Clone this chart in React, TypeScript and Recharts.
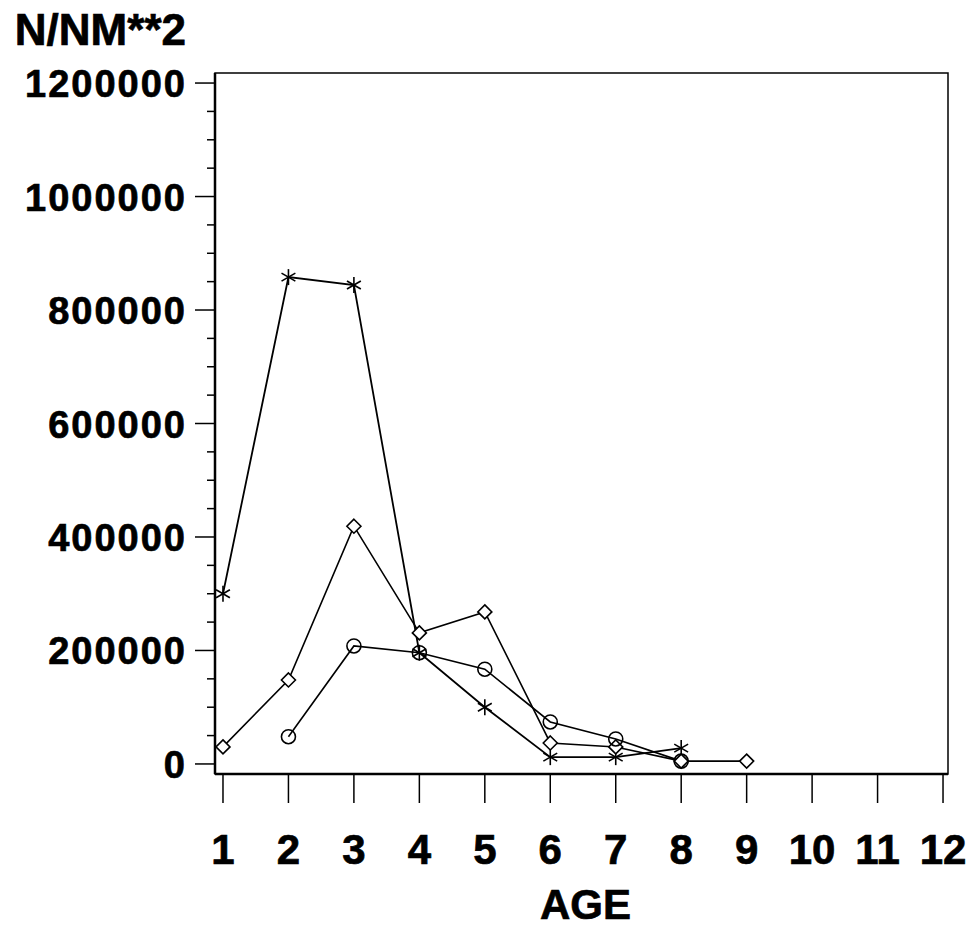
import { LineChart, Line, XAxis, YAxis, ReferenceArea } from 'recharts';

const ages = [1, 2, 3, 4, 5, 6, 7, 8, 9, 10, 11, 12];
const starSeries = [300000, 858000, 844000, 196000, 100000, 12000, 12000, 28000, null, null, null, null];
const diamondSeries = [30000, 148000, 419000, 231000, 268000, 37000, 30000, 5000, 5000, null, null, null];
const circleSeries = [null, 48000, 208000, 196000, 167000, 74000, 44000, 5000, null, null, null, null];
const yMajor = [0, 200000, 400000, 600000, 800000, 1000000, 1200000];
const yTicks = [0, 50000, 100000, 150000, 200000, 250000, 300000, 350000, 400000, 450000, 500000, 550000, 600000, 650000, 700000, 750000, 800000, 850000, 900000, 950000, 1000000, 1050000, 1100000, 1150000, 1200000];

const data = ages.map((age, i) => ({
  age,
  star: starSeries[i],
  diamond: diamondSeries[i],
  circle: circleSeries[i],
}));

const FONT = '"Liberation Sans", Arial, sans-serif';

// heavier look for the bold labels
const textStyle = {
  fontFamily: FONT,
  fontWeight: 'bold',
  fill: '#000',
  stroke: '#000',
  strokeWidth: 0.7,
} as const;

const StarDot = (props: any) => {
  const { cx, cy, index } = props;
  if (cx == null || cy == null || props.value == null) return <g key={`s${index}`} />;
  const r = 8;
  const dx = r * Math.cos(Math.PI / 6);
  const dy = r * Math.sin(Math.PI / 6);
  return (
    <g key={`s${index}`} stroke="#000" strokeWidth={1.6}>
      <line x1={cx} y1={cy - r} x2={cx} y2={cy + r} />
      <line x1={cx - dx} y1={cy - dy} x2={cx + dx} y2={cy + dy} />
      <line x1={cx - dx} y1={cy + dy} x2={cx + dx} y2={cy - dy} />
    </g>
  );
};

const DiamondDot = (props: any) => {
  const { cx, cy, index } = props;
  if (cx == null || cy == null || props.value == null) return <g key={`d${index}`} />;
  const r = 7;
  return (
    <path
      key={`d${index}`}
      d={`M${cx},${cy - r}L${cx + r},${cy}L${cx},${cy + r}L${cx - r},${cy}Z`}
      fill="#fff"
      stroke="#000"
      strokeWidth={1.6}
    />
  );
};

const CircleDot = (props: any) => {
  const { cx, cy, index } = props;
  if (cx == null || cy == null || props.value == null) return <g key={`c${index}`} />;
  return <circle key={`c${index}`} cx={cx} cy={cy} r={7} fill="none" stroke="#000" strokeWidth={1.6} />;
};

const YTick = (props: any) => {
  const { x, y, payload } = props;
  const major = yMajor.includes(payload.value);
  return (
    <g>
      <line x1={major ? x - 20 : x - 8} y1={y} x2={x} y2={y} stroke="#000" strokeWidth={1.5} />
      {major && (
        <text x={x - 28} y={y + 14} textAnchor="end" fontSize={38} letterSpacing={2} {...textStyle}>
          {payload.value}
        </text>
      )}
    </g>
  );
};

const XTick = (props: any) => {
  const { x, y, payload } = props;
  return (
    <g>
      <line x1={x} y1={y} x2={x} y2={y + 29} stroke="#000" strokeWidth={1.5} />
      <text x={x} y={y + 90} textAnchor="middle" fontSize={42} {...textStyle}>
        {payload.value}
      </text>
    </g>
  );
};

export default function App() {
  return (
    <div style={{ position: 'absolute', left: 0, top: 0, background: '#fff' }}>
      <LineChart width={966} height={931} data={data} margin={{ top: 73, right: 18, left: 15, bottom: 17 }}>
        <XAxis
          dataKey="age"
          type="number"
          domain={[0.878, 12.076]}
          ticks={ages}
          interval={0}
          height={140}
          tickSize={0}
          tickMargin={0}
          tickLine={false}
          axisLine={{ stroke: '#000', strokeWidth: 2.5 }}
          tick={<XTick />}
          allowDataOverflow
          label={{
            content: ({ viewBox }: any) => (
              <text
                x={viewBox.x + viewBox.width / 2 + 4}
                y={viewBox.y + 145}
                textAnchor="middle"
                fontSize={42}
                {...textStyle}
              >
                AGE
              </text>
            ),
          }}
        />
        <YAxis
          type="number"
          domain={[-17700, 1217700]}
          ticks={yTicks}
          interval={0}
          width={200}
          tickSize={0}
          tickMargin={0}
          tickLine={false}
          axisLine={{ stroke: '#000', strokeWidth: 2.5 }}
          tick={<YTick />}
          allowDataOverflow
          label={{
            content: ({ viewBox }: any) => (
              <text x={viewBox.x + viewBox.width - 29} y={45} textAnchor="end" fontSize={44} {...textStyle}>
                N/NM**2
              </text>
            ),
          }}
        />
        <ReferenceArea
          x1={0.878}
          x2={12.076}
          y1={-17700}
          y2={1217700}
          fill="none"
          stroke="#000"
          strokeWidth={1.5}
          ifOverflow="extendDomain"
        />
        <Line
          type="linear"
          dataKey="star"
          stroke="#000"
          strokeWidth={1.8}
          dot={StarDot}
          activeDot={false}
          isAnimationActive={false}
        />
        <Line
          type="linear"
          dataKey="diamond"
          stroke="#000"
          strokeWidth={1.6}
          dot={DiamondDot}
          activeDot={false}
          isAnimationActive={false}
        />
        <Line
          type="linear"
          dataKey="circle"
          stroke="#000"
          strokeWidth={1.6}
          dot={CircleDot}
          activeDot={false}
          isAnimationActive={false}
        />
      </LineChart>
    </div>
  );
}
